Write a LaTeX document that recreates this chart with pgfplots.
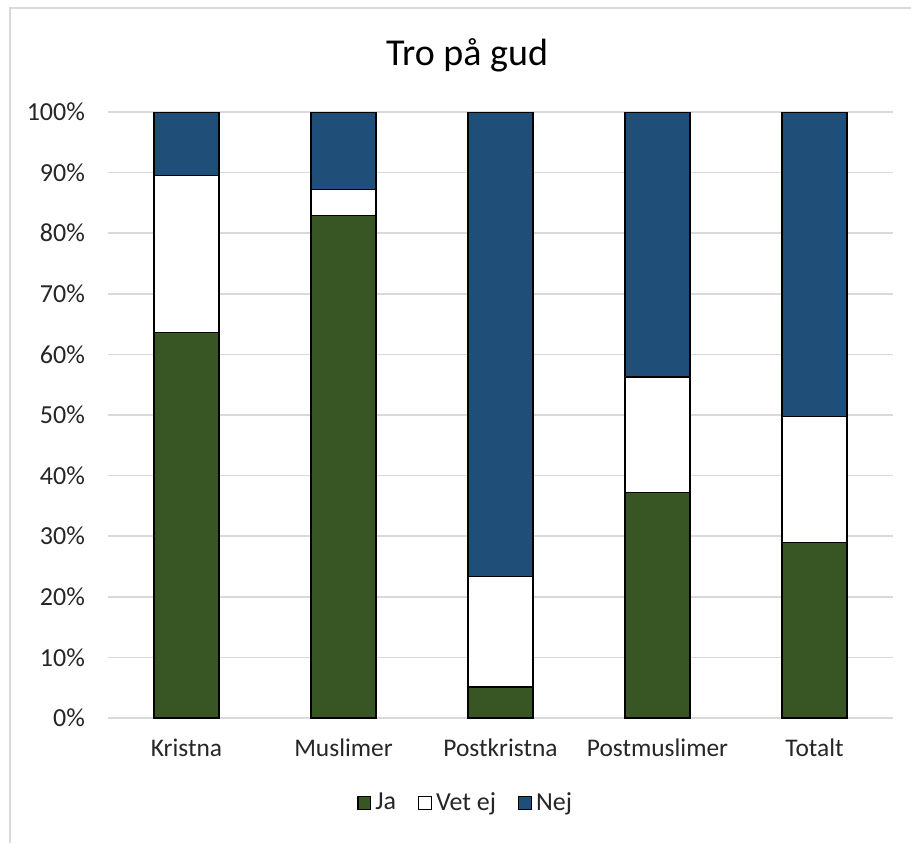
\documentclass[border=0pt]{standalone}
\usepackage{pgfplots}
\pgfplotsset{compat=1.18}
\usepackage{fontspec}
\setmainfont{Carlito}
\definecolor{jagreen}{HTML}{375623}
\definecolor{nejblue}{HTML}{1F4E79}
\definecolor{gridgray}{HTML}{D9D9D9}
\definecolor{txtgray}{HTML}{262626}
\begin{document}
\begin{tikzpicture}
\useasboundingbox (0pt,0pt) rectangle (455.5pt,421.5pt);
\draw[gridgray, line width=0.6pt] (5pt,0pt) -- (5pt,417.5pt) -- (455.5pt,417.5pt);
\node[font=\fontsize{19}{22}\selectfont, text=black] at (233.5pt,394pt) {Tro på gud};
\begin{axis}[
  at={(54pt,62.5pt)}, anchor=south west,
  scale only axis, width=392.5pt, height=303pt,
  ybar stacked, bar width=32.5pt,
  xmin=-0.5, xmax=4.5, ymin=0, ymax=100,
  xtick={0,1,2,3,4},
  xticklabels={Kristna,Muslimer,Postkristna,Postmuslimer,Totalt},
  ytick={0,10,...,100},
  yticklabels={0\%,10\%,20\%,30\%,40\%,50\%,60\%,70\%,80\%,90\%,100\%},
  major tick length=0pt,
  axis line style={draw=none},
  ymajorgrids, grid style={gridgray, line width=0.75pt},
  tick label style={font=\fontsize{13}{15}\selectfont, text=txtgray},
  yticklabel style={xshift=-8pt},
  xticklabel style={yshift=-7pt, font=\fontsize{12.7}{15}\selectfont},
  every axis plot/.append style={draw=black, line width=0.7pt},
  legend style={at={(0.457,-0.140)}, anchor=center, draw=none, legend columns=3,
    font=\fontsize{13}{15}\selectfont, text=txtgray,
    /tikz/every even column/.append style={column sep=9pt}},
  legend image code/.code={\draw[#1, line width=0.6pt] (0pt,-3.2pt) rectangle (6.4pt,3.2pt);},
]
\addplot[fill=jagreen] coordinates {(0,63.6) (1,82.9) (2,5.1) (3,37.2) (4,29.0)};
\addplot[fill=white] coordinates {(0,25.9) (1,4.3) (2,18.3) (3,19.1) (4,20.8)};
\addplot[fill=nejblue] coordinates {(0,10.5) (1,12.8) (2,76.6) (3,43.7) (4,50.2)};
\legend{Ja,Vet ej,Nej}
\end{axis}
\end{tikzpicture}
\end{document}
